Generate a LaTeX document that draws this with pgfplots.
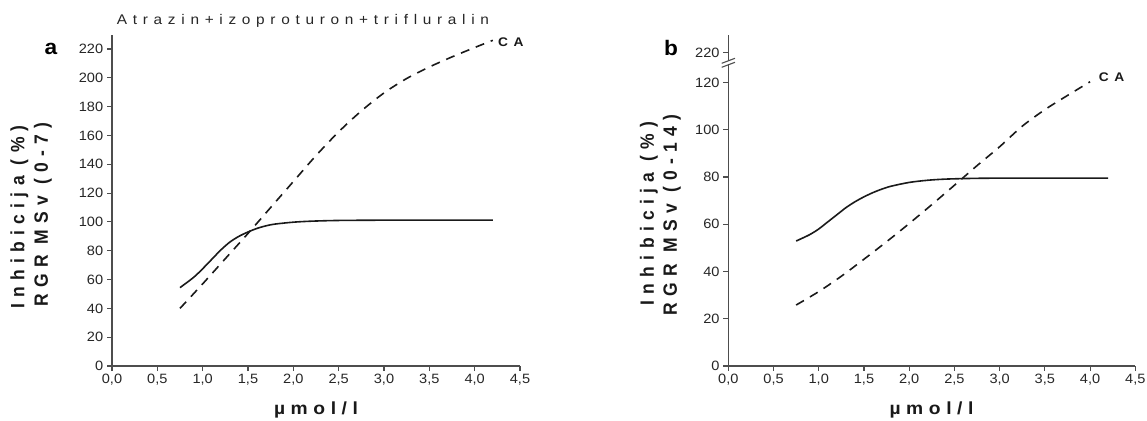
\documentclass[border=0pt]{standalone}
\usepackage{fontspec}
\setmainfont{Liberation Sans}
\newfontfamily\spacedfont[LetterSpace=36]{Liberation Sans}
\newfontfamily\xlblfont[LetterSpace=29]{Liberation Sans}
\newfontfamily\titlefont[LetterSpace=37]{Liberation Sans}
\usepackage{pgfplots}
\pgfplotsset{compat=1.18}

\definecolor{axisgray}{HTML}{4D4D4D}
\definecolor{curve}{HTML}{1A1A1A}

\pgfplotsset{
  panel/.style={
    scale only axis, anchor=south west, clip=false,
    xmin=0, xmax=4.5, ymin=0,
    axis x line=bottom, axis y line=left,
    axis line style={-, draw=axisgray, line width=1.1bp},
    tick align=outside, major tick length=5bp,
    tick style={draw=axisgray, line width=1.1bp},
    xtick={0,0.5,1,1.5,2,2.5,3,3.5,4,4.5},
    /pgf/number format/assume math mode=true,
    x tick label style={/pgf/number format/.cd, fixed, fixed zerofill, precision=1, use comma, /tikz/.cd},
    tick label style={font=\fontsize{13.5bp}{16bp}\selectfont, text=black!85, xscale=1.08},
  },
  fitted/.style={curve, line width=1.6bp, smooth},
  ca/.style={curve, line width=1.6bp, smooth, dash pattern=on 9bp off 7bp},
}
\tikzset{
  lbl/.style={font=\spacedfont\bfseries\fontsize{17.5bp}{21bp}\selectfont, text=black!90, inner sep=0pt},
  xlbl/.style={font=\xlblfont\bfseries\fontsize{17.5bp}{21bp}\selectfont, text=black!90, inner sep=0pt, anchor=base, xscale=1.1},
  calbl/.style={font=\bfseries\fontsize{12.5bp}{15bp}\selectfont, text=black!90, inner sep=0pt, anchor=west, xscale=1.1},
  panellbl/.style={font=\bfseries\fontsize{21bp}{24bp}\selectfont, inner sep=0pt, anchor=base, xscale=1.08},
}

\begin{document}
\begin{tikzpicture}
\path[use as bounding box] (0,0) rectangle (1147bp,421bp);

% ---- panel a: 0-7 days ----
\begin{axis}[panel, at={(112bp,55bp)}, width=408bp, height=331bp,
  ymax=229.7, ytick={0,20,...,220}]
\addplot[fitted] table {
0.75 54.4
0.9 61.5
1.0 67.5
1.1 74
1.2 80.5
1.3 86
1.4 90
1.5 93
1.6 95.5
1.7 97.3
1.8 98.5
2.0 99.8
2.2 100.5
2.5 101
3.0 101.2
3.5 101.2
4.2 101.2
};
\addplot[ca] table {
0.75 40
1.0 57
1.25 74.5
1.5 92
1.75 110
2.0 128
2.25 146
2.5 162.5
2.75 177
3.0 189.5
3.25 199.5
3.5 207.5
3.75 214.5
4.0 221
4.2 226
};
\node[calbl] at (axis cs:4.256,224.8) {C\hspace{5bp}A};
\end{axis}

% ---- panel b: 0-14 days, broken y axis ----
\begin{axis}[panel, at={(728.3bp,55bp)}, width=407bp, height=331bp,
  ymax=140.1, ytick={0,20,40,60,80,100,120,132.6},
  yticklabels={0,20,40,60,80,100,120,220}]
\addplot[fitted] table {
0.75 52.9
0.9 55.6
1.0 58
1.1 61
1.2 64
1.3 67
1.4 69.5
1.5 71.6
1.6 73.4
1.7 74.9
1.8 76.1
2.0 77.7
2.2 78.6
2.4 79.1
2.7 79.4
3.0 79.5
4.2 79.5
};
\addplot[ca] table {
0.75 25.8
1.0 31.5
1.25 38
1.5 45.2
1.75 52.6
2.0 60.3
2.25 68.3
2.5 76.5
2.75 84.8
3.0 92.8
3.25 101.5
3.5 108.5
3.75 114.5
4.0 120.3
};
\node[calbl] at (axis cs:4.096,122.4) {C\hspace{5bp}A};
\end{axis}

% axis break marks
\fill[white] (726bp,355.3bp) -- (731bp,357.2bp) -- (731bp,361.2bp) -- (726bp,359.3bp) -- cycle;
\draw[axisgray, line width=1.1bp] (721.7bp,357.7bp) -- (735bp,362.7bp);
\draw[axisgray, line width=1.1bp] (721.7bp,353.7bp) -- (735bp,358.7bp);

% titles and axis labels
\node[anchor=base, font=\titlefont\fontsize{14bp}{17bp}\selectfont, text=black!85, xscale=1.1] at (303bp,396bp) {Atrazin+izoproturon+trifluralin};
\node[panellbl] at (51bp,366.5bp) {a};
\node[panellbl] at (671bp,365.5bp) {b};

\node[lbl, rotate=90, yscale=1.1] at (19.5bp,204bp) {Inhibicija (\%)};
\node[lbl, rotate=90, yscale=1.1] at (43bp,206.5bp) {RGR MSv (0-7)};
\node[lbl, rotate=90, yscale=1.1] at (649bp,207.5bp) {Inhibicija (\%)};
\node[lbl, rotate=90, yscale=1.1] at (672bp,206bp) {RGR MSv (0-14)};

\node[xlbl] at (316bp,6.5bp) {µmol/l};
\node[xlbl] at (931.5bp,6.5bp) {µmol/l};
\end{tikzpicture}
\end{document}
